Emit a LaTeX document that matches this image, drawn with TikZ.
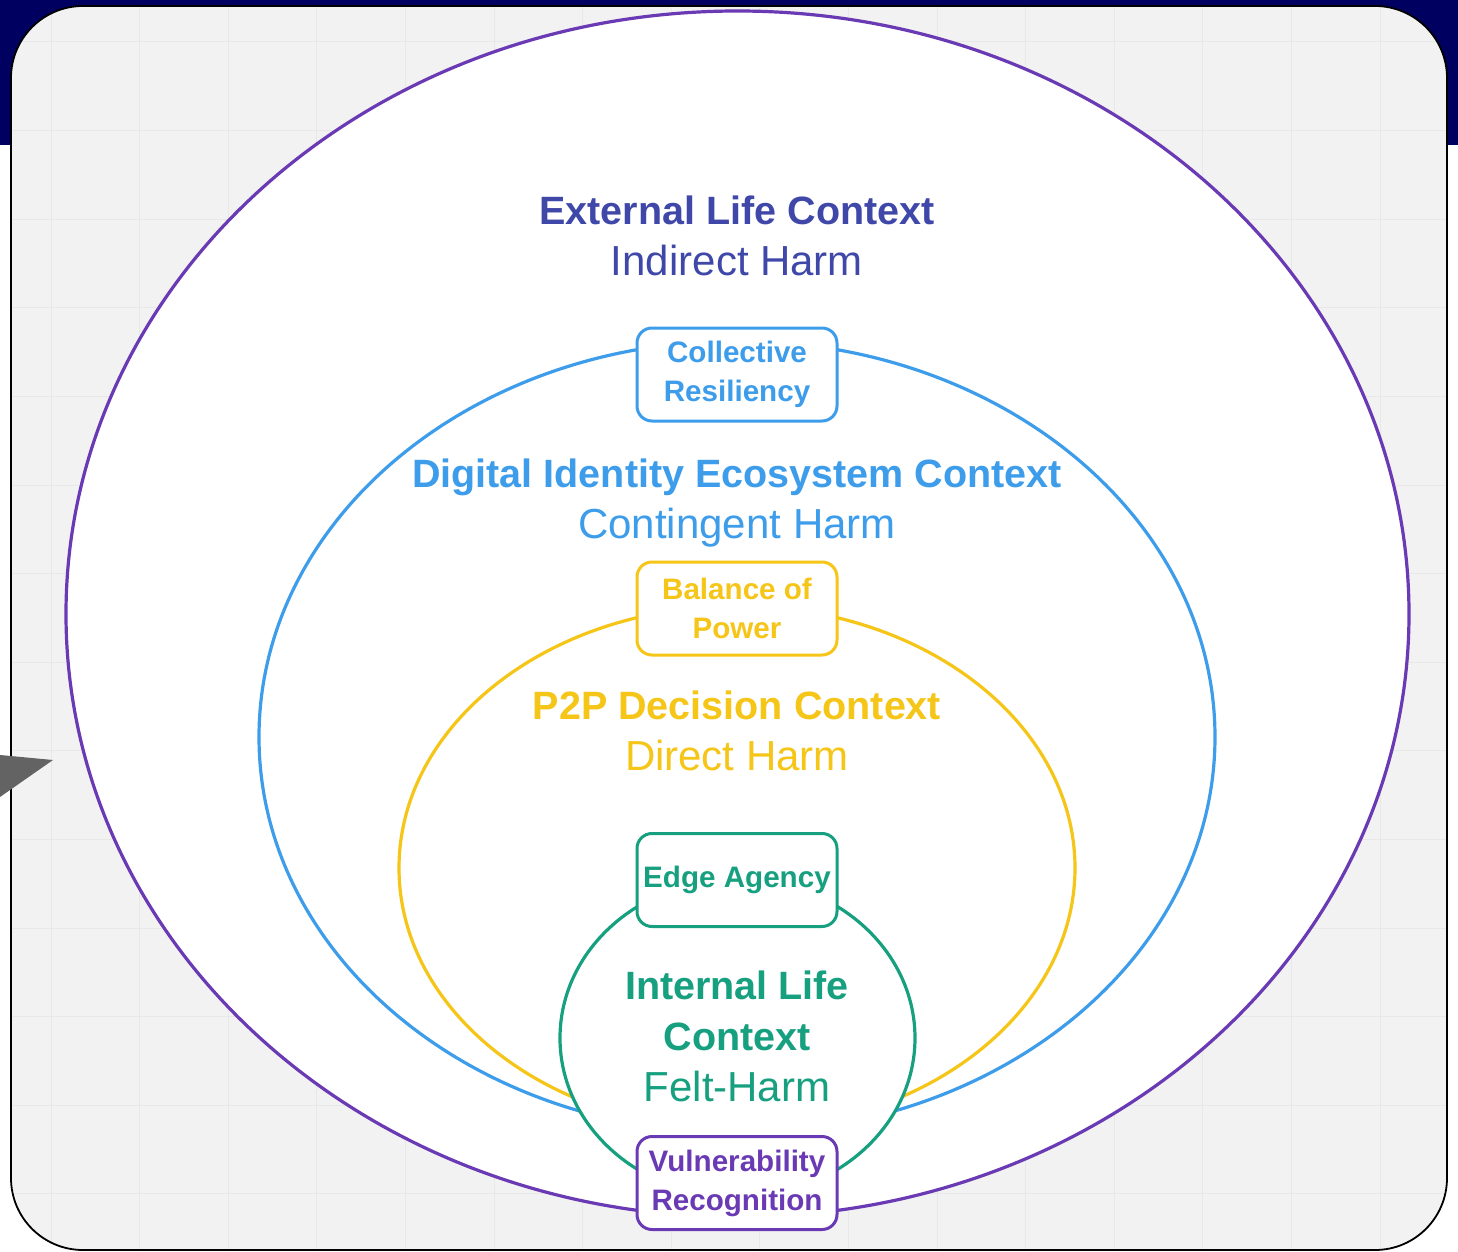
\documentclass[tikz,border=0pt]{standalone}
\usepackage{fontspec}
\setmainfont{Liberation Sans}
\usepackage{xcolor}
\usepackage{tikz}
\usetikzlibrary{shapes.geometric,positioning}
\definecolor{navyband}{HTML}{000060}
\definecolor{cardgray}{HTML}{F2F2F2}
\definecolor{gridgray}{HTML}{E8E8E8}
\definecolor{extpurple}{HTML}{6A3AB4}
\definecolor{extindigo}{HTML}{3F48A8}
\definecolor{digblue}{HTML}{3D9DEA}
\definecolor{ptpyellow}{HTML}{F5C518}
\definecolor{intgreen}{HTML}{16A07F}
\definecolor{pointergray}{HTML}{636363}
\tikzset{
  ring/.style={draw, ellipse, line width=1.6pt, fill=white, inner sep=0pt},
  tag/.style={draw, rounded corners=7.5pt, fill=white, line width=1.5pt, align=center,
    minimum width=100pt, minimum height=46.5pt, inner sep=1pt,
    font=\fontsize{14.8}{19.5}\selectfont\bfseries},
  ctx/.style={align=center, font=\fontsize{21}{25.5}\selectfont},
  gridline/.style={gridgray, line width=0.5pt},
}
\newcommand{\ctxtitle}[1]{{\fontsize{19.75}{25.5}\selectfont\bfseries #1}}

\begin{document}
\begin{tikzpicture}[x=0.5pt, y=-0.5pt]
\useasboundingbox (0,0) rectangle (1458,1252);
% background
\fill[white] (0,0) rectangle (1458,1252);
\fill[navyband] (0,0) rectangle (1458,145);
\fill[cardgray] (11,6) [rounded corners=36pt] rectangle (1447,1250);
\begin{scope}
  \clip (11,6) [rounded corners=36pt] rectangle (1447,1250);
  \foreach \gx in {0,...,15} \draw[gridline] ({51+88.6*\gx},6) -- ({51+88.6*\gx},1250);
  \foreach \gy in {0,...,13} \draw[gridline] (11,{42+88.6*\gy}) -- (1447,{42+88.6*\gy});
\end{scope}
\draw[black, line width=0.9pt] (11,6) [rounded corners=36pt] rectangle (1447,1250);
\fill[pointergray] (0,755) -- (53,760) -- (0,797) -- cycle;

% nested contexts
\node[ring, draw=extpurple, minimum width=671.5pt, minimum height=603pt] (ext) at (737.5,614) {};
\node[ring, draw=digblue, minimum width=478pt, minimum height=396pt] (dig) at (737,737) {};
\node[ring, draw=ptpyellow, minimum width=338pt, minimum height=262pt] (ptp) at (737,868) {};
\node[ring, draw=intgreen, minimum width=177.5pt, minimum height=159pt] (int) at (737.5,1038) {};

% context labels
\node[ctx, text=extindigo] (extlab) at (737,236) {\ctxtitle{External Life Context}\\Indirect Harm};
\node[ctx, text=digblue] (diglab) at (737,503) {\ctxtitle{Digital Identity Ecosystem Context}\\Contingent Harm};
\node[ctx, text=ptpyellow] (ptplab) at (737,731) {\ctxtitle{P2P Decision Context}\\Direct Harm};
\node[ctx, text=intgreen] (intlab) at (737,1036) {\ctxtitle{Internal Life}\\\ctxtitle{Context}\\Felt-Harm};

% boundary tags
\node[tag, draw=digblue, text=digblue] (resil) at (737,374.5) {Collective\\Resiliency};
\node[tag, draw=ptpyellow, text=ptpyellow] (power) at (737,608.5) {Balance of\\Power};
\node[tag, draw=intgreen, text=intgreen] (agency) at (737,880) {Edge Agency};
\node[tag, draw=extpurple, text=extpurple] (vulner) at (737,1183) {Vulnerability\\Recognition};
\end{tikzpicture}
\end{document}
